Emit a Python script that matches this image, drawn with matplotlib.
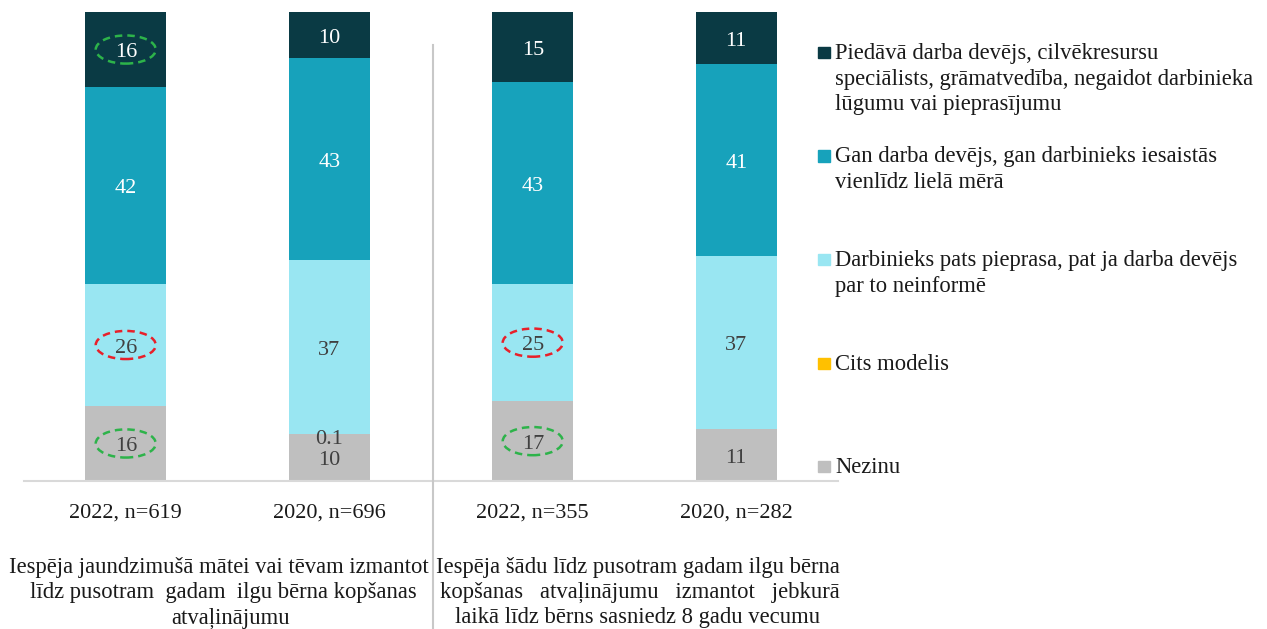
import matplotlib
matplotlib.use("Agg")
import matplotlib.pyplot as plt
from matplotlib.patches import Ellipse, Rectangle
from matplotlib.lines import Line2D
import numpy as np

plt.rcParams['font.family'] = ['Liberation Serif', 'DejaVu Serif']

categories = ["2022, n=619", "2020, n=696", "2022, n=355", "2020, n=282"]
series_names = [
    "Nezinu",
    "Cits modelis",
    "Darbinieks pats pieprasa, pat ja darba devējs\npar to neinformē",
    "Gan darba devējs, gan darbinieks iesaistās\nvienlīdz lielā mērā",
    "Piedāvā darba devējs, cilvēkresursu\nspeciālists, grāmatvedība, negaidot darbinieka\nlūgumu vai pieprasījumu",
]
nezinu = [16, 10, 17, 11]
cits = [0, 0.1, 0, 0]
darbinieks = [26, 37, 25, 37]
gan = [42, 43, 43, 41]
piedava = [16, 10, 15, 11]
group_labels = [
    "Iespēja jaundzimušā mātei vai tēvam izmantot\nlīdz pusotram  gadam  ilgu bērna kopšanas\natvaļinājumu",
    "Iespēja šādu līdz pusotram gadam ilgu bērna\nkopšanas   atvaļinājumu   izmantot   jebkurā\nlaikā līdz bērns sasniedz 8 gadu vecumu",
]

colors = ["#BFBFBF", "#FFC000", "#99E6F2", "#17A2BB", "#0A3A44"]
text_colors = ["#404040", "#404040", "#404040", "white", "white"]
series = [nezinu, cits, darbinieks, gan, piedava]

W, H = 1267, 629
fig = plt.figure(figsize=(W / 100, H / 100), dpi=100)
ax = fig.add_axes([24 / W, 1 - 481 / H, (838 - 24) / W, (481 - 12) / H])

x = np.arange(len(categories))
bottom = np.zeros(len(categories))
for vals, col, tc in zip(series, colors, text_colors):
    vals = np.array(vals, dtype=float)
    ax.bar(x, vals, bottom=bottom, width=0.4, color=col, edgecolor='none', clip_on=False)
    for xi, v, b in zip(x, vals, bottom):
        if v > 0:
            yc = b + v / 2 - 0.7
            if v < 1:
                yc -= 0.6
            ax.text(xi, yc, f"{v:g}", ha='center', va='center', fontsize=16, color=tc)
    bottom += vals

ax.set_xlim(-0.5, 3.5)
ax.set_ylim(0, 100)
ax.axis('off')
ax.axhline(0, color='#D9D9D9', lw=1.5, clip_on=False)

# highlight ellipses
green = "#2DB34A"
red = "#E8202A"
ell_w, ell_h = 0.295, 6.0
highlights = [
    (0, nezinu[0] / 2, green),
    (0, nezinu[0] + cits[0] + darbinieks[0] / 2, red),
    (0, 100 - piedava[0] / 2, green),
    (2, nezinu[2] / 2, green),
    (2, nezinu[2] + cits[2] + darbinieks[2] / 2, red),
]
for xi, yc, c in highlights:
    ax.add_patch(Ellipse((xi, yc), ell_w, ell_h, fill=False, edgecolor=c,
                         lw=1.8, ls=(0, (3, 2)), clip_on=False))

# category labels
for xi, lab in zip(x, categories):
    ax.text(xi, -6.8, lab, ha='center', va='center', fontsize=16, color='#1a1a1a')

# group labels (line by line)
line_centers = [[219, 223, 231], [638, 640, 638]]
for cxs, lab in zip(line_centers, group_labels):
    for k, (cx, line) in enumerate(zip(cxs, lab.split("\n"))):
        fig.text(cx / W, 1 - (567 + 25.5 * k) / H, line, ha='center', va='center',
                 fontsize=16.3, color='#1a1a1a')

# separator line
fig.add_artist(Line2D([433 / W, 433 / W], [1 - 45 / H, 0], color='#C8C8C8', lw=1.5))

# legend (manual)
legend_order = [4, 3, 2, 1, 0]
for i, si in enumerate(legend_order):
    base = 59 + 103.5 * i
    fig.add_artist(Rectangle((818 / W, 1 - (base - 1) / H), 12 / W, 11 / H,
                             transform=fig.transFigure, color=colors[si]))
    for k, line in enumerate(series_names[si].split("\n")):
        fig.text(835 / W, 1 - (base + 25.7 * k) / H, line, ha='left', va='baseline',
                 fontsize=16.3, color='#1a1a1a')

fig.savefig("out.png", dpi=100)
